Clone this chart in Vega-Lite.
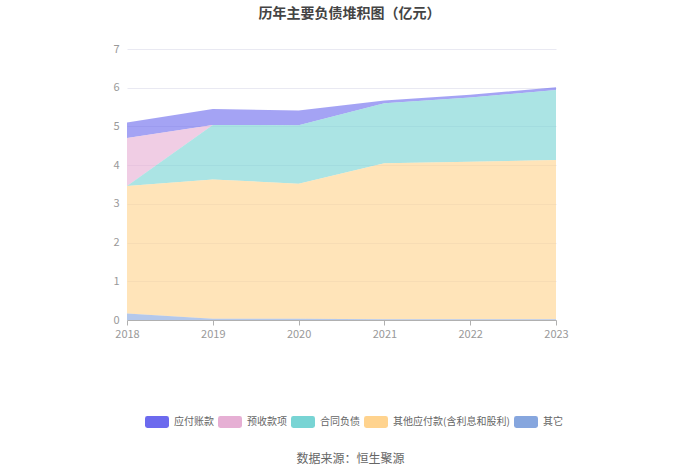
{
  "$schema": "https://vega.github.io/schema/vega-lite/v6.json",
  "autosize": {"type": "none"},
  "width": 429,
  "height": 271,
  "padding": {"left": 127, "top": 49, "right": 144, "bottom": 153},
  "background": "#ffffff",
  "title": {
    "text": "历年主要负债堆积图（亿元）",
    "anchor": "middle",
    "frame": "group",
    "dx": 8,
    "offset": 22,
    "font": "Noto Sans CJK SC",
    "fontSize": 14,
    "fontWeight": "bold",
    "color": "#444444"
  },
  "config": {
    "view": {"stroke": null},
    "font": "Noto Sans CJK SC"
  },
  "data": {
    "values": [
      {"year": 2018, "item": "应付账款", "value": 0.40},
      {"year": 2018, "item": "预收款项", "value": 1.24},
      {"year": 2018, "item": "合同负债", "value": 0.00},
      {"year": 2018, "item": "其他应付款(含利息和股利)", "value": 3.29},
      {"year": 2018, "item": "其它", "value": 0.17},
      {"year": 2019, "item": "应付账款", "value": 0.41},
      {"year": 2019, "item": "预收款项", "value": 0.00},
      {"year": 2019, "item": "合同负债", "value": 1.41},
      {"year": 2019, "item": "其他应付款(含利息和股利)", "value": 3.60},
      {"year": 2019, "item": "其它", "value": 0.03},
      {"year": 2020, "item": "应付账款", "value": 0.38},
      {"year": 2020, "item": "预收款项", "value": 0.00},
      {"year": 2020, "item": "合同负债", "value": 1.51},
      {"year": 2020, "item": "其他应付款(含利息和股利)", "value": 3.49},
      {"year": 2020, "item": "其它", "value": 0.03},
      {"year": 2021, "item": "应付账款", "value": 0.07},
      {"year": 2021, "item": "预收款项", "value": 0.00},
      {"year": 2021, "item": "合同负债", "value": 1.55},
      {"year": 2021, "item": "其他应付款(含利息和股利)", "value": 4.03},
      {"year": 2021, "item": "其它", "value": 0.02},
      {"year": 2022, "item": "应付账款", "value": 0.07},
      {"year": 2022, "item": "预收款项", "value": 0.00},
      {"year": 2022, "item": "合同负债", "value": 1.66},
      {"year": 2022, "item": "其他应付款(含利息和股利)", "value": 4.07},
      {"year": 2022, "item": "其它", "value": 0.02},
      {"year": 2023, "item": "应付账款", "value": 0.07},
      {"year": 2023, "item": "预收款项", "value": 0.00},
      {"year": 2023, "item": "合同负债", "value": 1.81},
      {"year": 2023, "item": "其他应付款(含利息和股利)", "value": 4.11},
      {"year": 2023, "item": "其它", "value": 0.02}
    ]
  },
  "transform": [
    {"calculate": "indexof(['其它', '其他应付款(含利息和股利)', '合同负债', '预收款项', '应付账款'], datum.item)", "as": "stackOrder"}
  ],
  "mark": {"type": "area", "fillOpacity": 0.62, "interpolate": "linear"},
  "encoding": {
    "x": {
      "field": "year",
      "type": "quantitative",
      "scale": {"domain": [2018, 2023], "nice": false, "zero": false},
      "axis": {
        "values": [2018, 2019, 2020, 2021, 2022, 2023],
        "format": "d",
        "grid": false,
        "domainColor": "#b0b0b0",
        "tickColor": "#b0b0b0",
        "tickSize": 5,
        "labelColor": "#999999",
        "labelFontSize": 11,
        "labelPadding": 3,
        "labelFlush": false,
        "title": "数据来源：恒生聚源",
        "titleColor": "#666666",
        "titleFontSize": 12,
        "titleFontWeight": "normal",
        "titleX": 223,
        "titleY": 138,
        "titleBaseline": "middle",
        "titleAnchor": "middle"
      }
    },
    "y": {
      "field": "value",
      "type": "quantitative",
      "stack": "zero",
      "scale": {"domain": [0, 7], "nice": false},
      "axis": {
        "values": [0, 1, 2, 3, 4, 5, 6, 7],
        "title": null,
        "domain": false,
        "ticks": false,
        "gridColor": "#e9e9f2",
        "labelColor": "#999999",
        "labelFontSize": 11,
        "labelPadding": 8
      }
    },
    "color": {
      "field": "item",
      "type": "nominal",
      "scale": {
        "domain": ["应付账款", "预收款项", "合同负债", "其他应付款(含利息和股利)", "其它"],
        "range": ["#6c6aee", "#e6afd4", "#78d4d4", "#ffd38e", "#86a6de"]
      },
      "legend": {
        "title": null,
        "orient": "none",
        "legendX": 18,
        "legendY": 361,
        "direction": "horizontal",
        "columns": 5,
        "symbolType": "M-0.8,-0.5H0.8Q1,-0.5 1,-0.3V0.3Q1,0.5 0.8,0.5H-0.8Q-1,0.5 -1,0.3V-0.3Q-1,-0.5 -0.8,-0.5Z",
        "symbolSize": 576,
        "symbolOpacity": 1,
        "symbolStrokeWidth": 0,
        "labelFontSize": 10,
        "labelColor": "#666666",
        "labelOffset": 5,
        "columnPadding": 4,
        "labelLimit": 200
      }
    },
    "order": {"field": "stackOrder", "type": "quantitative", "sort": "ascending"}
  }
}
